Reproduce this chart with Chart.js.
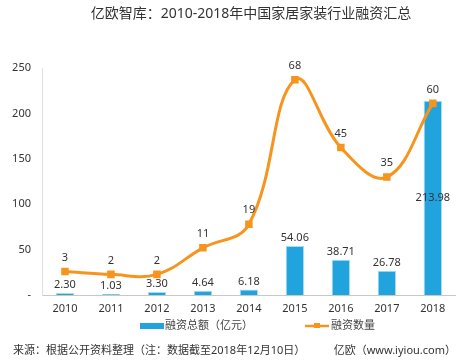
<!DOCTYPE html>
<html>
<head>
<meta charset="utf-8">
<script src="https://cdn.jsdelivr.net/npm/chart.js@4/dist/chart.umd.min.js"></script>
<style>
  html, body { margin: 0; padding: 0; background: #fff; }
  #wrap { position: relative; width: 462px; height: 363px; }
</style>
</head>
<body>
<div id="wrap"><canvas id="myChart" width="462" height="363"></canvas></div>
<script>
const anos = ['2010', '2011', '2012', '2013', '2014', '2015', '2016', '2017', '2018'];
const totalFinanciamento = [2.30, 1.03, 3.30, 4.64, 6.18, 54.06, 38.71, 26.78, 213.98];
const numeroFinanciamentos = [3, 2, 2, 11, 19, 68, 45, 35, 60];
const ticksEsquerda = [0, 50, 100, 150, 200, 250];

const titulo = '亿欧智库：2010-2018年中国家居家装行业融资汇总';
const fonte = '来源：根据公开资料整理（注：数据截至2018年12月10日）';
const marca = '亿欧（www.iyiou.com）';

const azul = '#21a4dd';
const laranja = '#f7941e';
const fontFamily = '"Noto Sans", "Noto Sans CJK SC", sans-serif';

// rótulos de dados, legenda, título e rodapé
const extras = {
    id: 'extras',
    afterDatasetsDraw(chart) {
        const ctx = chart.ctx;
        ctx.save();
        ctx.font = '11px ' + fontFamily;
        ctx.fillStyle = '#333';
        ctx.textAlign = 'center';
        ctx.textBaseline = 'middle';

        let barras = chart.getDatasetMeta(1).data;
        barras.forEach(function(bar, i) {
            let v = totalFinanciamento[i].toFixed(2);
            if (i === barras.length - 1) {
                ctx.fillText(v, bar.x, (bar.y + bar.base) / 2);
            } else {
                ctx.fillText(v, bar.x, bar.y - 8);
            }
        });

        let pontos = chart.getDatasetMeta(0).data;
        pontos.forEach(function(p, i) {
            ctx.fillText(String(numeroFinanciamentos[i]), p.x, p.y - 14);
        });
        ctx.restore();
    },
    afterDraw(chart) {
        const ctx = chart.ctx;
        ctx.save();
        ctx.textBaseline = 'middle';

        // título
        ctx.fillStyle = '#333';
        ctx.font = '14px ' + fontFamily;
        ctx.textAlign = 'center';
        ctx.fillText(titulo, 251, 14);

        // legenda
        ctx.font = '11px ' + fontFamily;
        ctx.textAlign = 'left';
        ctx.fillStyle = azul;
        ctx.fillRect(140, 323, 24, 6);
        ctx.fillStyle = '#444';
        ctx.fillText('融资总额（亿元）', 165, 326);

        ctx.strokeStyle = laranja;
        ctx.lineWidth = 2.5;
        ctx.beginPath();
        ctx.moveTo(305, 326);
        ctx.lineTo(329, 326);
        ctx.stroke();
        ctx.fillStyle = laranja;
        ctx.fillRect(314, 323, 6, 5);
        ctx.fillStyle = '#444';
        ctx.fillText('融资数量', 331, 326);

        // rodapé
        ctx.fillStyle = '#333';
        ctx.fillText(fonte, 13, 351);
        ctx.textAlign = 'right';
        ctx.fillText(marca, 456, 351);
        ctx.restore();
    }
};

let ctx = document.getElementById('myChart').getContext('2d');
let grafico = new Chart(ctx, {
    type: 'bar',
    data: {
        labels: anos,
        datasets: [{
            type: 'line',
            label: '融资数量',
            data: numeroFinanciamentos,
            yAxisID: 'y1',
            borderColor: laranja,
            backgroundColor: laranja,
            borderWidth: 3,
            tension: 0.4,
            pointStyle: 'rect',
            pointRadius: 3.2,
            pointHoverRadius: 3.2,
            order: 0
        }, {
            type: 'bar',
            label: '融资总额（亿元）',
            data: totalFinanciamento,
            yAxisID: 'y',
            backgroundColor: azul,
            borderColor: '#a9dcf3',
            borderWidth: 1,
            barPercentage: 0.4,
            categoryPercentage: 1,
            order: 1
        }]
    },
    options: {
        responsive: false,
        animation: false,
        layout: {
            padding: { top: 68, right: 6, left: 0, bottom: 0 }
        },
        plugins: {
            legend: { display: false },
            title: { display: false },
            tooltip: { enabled: false }
        },
        scales: {
            x: {
                grid: { display: false, drawTicks: false },
                border: { color: '#c8c8c8' },
                ticks: {
                    padding: 7,
                    color: '#333',
                    font: { size: 11, family: fontFamily }
                },
                afterFit: function(scale) { scale.height = 68; }
            },
            y: {
                min: 0,
                max: 250,
                afterBuildTicks: function(scale) {
                    scale.ticks = ticksEsquerda.map(function(v) { return { value: v }; });
                },
                grid: { display: false, drawTicks: false },
                border: { color: '#e0e0e0' },
                ticks: {
                    padding: 11,
                    color: '#333',
                    font: { size: 11, family: fontFamily },
                    callback: function(v) { return v === 0 ? '-' : v; }
                },
                afterFit: function(scale) { scale.width = 42; }
            },
            y1: {
                display: false,
                min: -5,
                max: 72
            }
        }
    },
    plugins: [extras]
});
</script>
</body>
</html>
